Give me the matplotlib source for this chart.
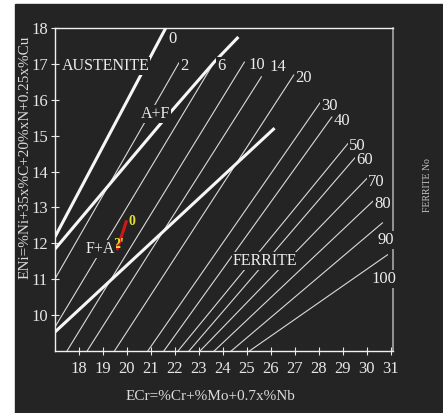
import numpy as np
import matplotlib
matplotlib.use("Agg")
import matplotlib.pyplot as plt
from matplotlib.patches import Rectangle

# iso-ferrite lines: top end -> bottom end (ECr, ENi)
fn_names = ["2", "6", "10", "14", "20", "30", "40", "50", "60", "70", "80", "90", "100"]
fn_x_top = [22.17, 23.64, 24.90, 25.61, 26.96, 28.05, 28.55, 29.27, 29.61, 30.03, 30.32, 30.66, 30.87]
fn_y_top = [17.03, 17.05, 17.05, 16.64, 16.69, 15.91, 15.52, 14.82, 14.46, 13.82, 13.21, 12.57, 11.68]
fn_x_bot = [17.00, 17.00, 17.50, 18.34, 19.48, 20.87, 21.54, 22.13, 22.59, 23.05, 23.64, 24.35, 25.11]
fn_y_bot = [11.01, 9.67, 9.00, 9.00, 9.00, 9.00, 9.00, 9.00, 9.00, 9.00, 9.00, 9.00, 9.00]

# ferrite number labels
lab_text = ["0", "2", "6", "10", "14", "20", "30", "40", "50", "60", "70", "80", "90", "100"]
lab_x = [21.92, 22.38, 23.93, 25.40, 26.29, 27.38, 28.43, 28.97, 29.61, 29.90, 30.40, 30.66, 30.78, 30.74]
lab_y = [17.69, 16.94, 16.94, 16.97, 16.91, 16.61, 15.83, 15.41, 14.71, 14.32, 13.71, 13.10, 12.09, 11.01]

# solidification mode boundaries (thick)
bnd_a_x = [17.0, 21.62]
bnd_a_y = [12.18, 18.0]
bnd_b_x = [17.0, 21.54, 23.64, 24.65]
bnd_b_y = [11.84, 15.44, 17.05, 17.75]
bnd_c_x = [17.0, 26.16]
bnd_c_y = [9.53, 15.21]

# region names
reg_text = ["AUSTENITE", "A+F", "F+A", "FERRITE"]
reg_x = [19.1, 21.2, 18.89, 25.74]
reg_y = [16.94, 15.6, 11.84, 11.51]

# hand-drawn marks
red_x = [19.6, 19.97]
red_y = [11.85, 12.6]
mark_text = ["0", "2'"]
mark_x = [20.22, 19.68]
mark_y = [12.62, 11.98]

bg = "#242424"
fg = "#ececec"
plt.rcParams["font.family"] = ["Liberation Serif", "DejaVu Serif"]

fig = plt.figure(figsize=(4.43, 4.13), dpi=100, facecolor="white")
fig.patches.append(Rectangle((15 / 443, 0), 1 - 15 / 443, 1 - 4 / 413,
                             transform=fig.transFigure, color=bg, zorder=-5))
ax = fig.add_axes([55 / 443, 1 - 351 / 413, 338 / 443, 323 / 413])
ax.set_facecolor(bg)
ax.set_xlim(17, 31.1)
ax.set_ylim(9, 18)

for i in range(len(fn_names)):
    ax.plot([fn_x_top[i], fn_x_bot[i]], [fn_y_top[i], fn_y_bot[i]],
            color="#dadada", lw=0.8, zorder=2)

for bx, by in [(bnd_a_x, bnd_a_y), (bnd_b_x, bnd_b_y), (bnd_c_x, bnd_c_y)]:
    ax.plot(bx, by, color="#f6f6f6", lw=2.2, solid_capstyle="butt", zorder=3)

ax.plot(red_x, red_y, color="#d01818", lw=2.2, zorder=4)
for t, x, y in zip(mark_text, mark_x, mark_y):
    ax.text(x, y, t, color="#e8e030", fontsize=10, fontweight="bold",
            ha="center", va="center", zorder=5)

box = dict(facecolor=bg, edgecolor="none", pad=0.5)
for t, x, y in zip(lab_text, lab_x, lab_y):
    ax.text(x, y, t, color=fg, fontsize=12, ha="center", va="center",
            bbox=box, zorder=6, clip_on=False)
for t, x, y in zip(reg_text, reg_x, reg_y):
    ax.text(x, y, t, color=fg, fontsize=11.5, ha="center", va="center",
            bbox=box, zorder=6)

ax.set_xticks(range(18, 32))
ax.set_yticks(range(10, 19))
ax.tick_params(direction="inout", length=6, width=0.8, colors="#e6e6e6",
               labelsize=12, pad=2)
ax.tick_params(axis="x", pad=4)
for s in ["left", "bottom", "top"]:
    ax.spines[s].set_color("#f0f0f0")
    ax.spines[s].set_linewidth(1.0)
ax.spines["right"].set_color("#a8a8a8")
ax.spines["right"].set_linewidth(1.2)

fig.text(25 / 443, 1 - 157 / 413, "ENi=%Ni+35x%C+20%xN+0.25x%Cu", rotation=90,
         color="#dcdcdc", fontsize=11, ha="center", va="center")
fig.text(210 / 443, 1 - 397 / 413, "ECr=%Cr+%Mo+0.7x%Nb",
         color="#dcdcdc", fontsize=11, ha="center", va="center")
fig.text(428 / 443, 1 - 185 / 413, "FERRITE No", rotation=90,
         color="#c4c4c4", fontsize=7, ha="center", va="center")

fig.savefig("out.png", dpi=100, facecolor="white")
